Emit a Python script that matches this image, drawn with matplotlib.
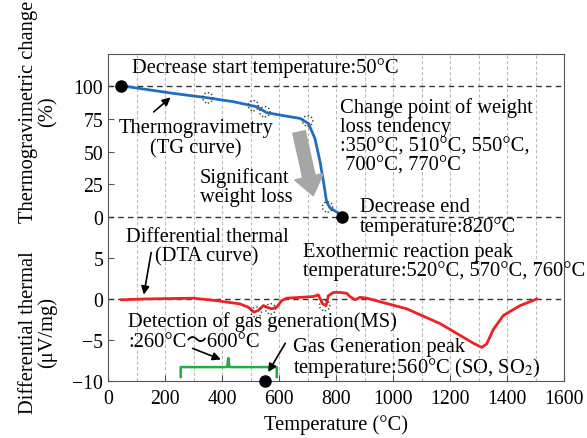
import matplotlib
matplotlib.use("Agg")
from matplotlib import pyplot as plt

plt.rcParams["font.family"] = ["Liberation Serif", "Noto Sans CJK JP"]
plt.rcParams["mathtext.fontset"] = "stix"
plt.rcParams["font.size"] = 14.8
plt.rcParams["xtick.labelsize"] = 14.2
plt.rcParams["ytick.labelsize"] = 14.2

# TG curve (%)
tg_temp = [45, 60, 229, 346, 440, 521, 557, 603, 674, 703, 726, 744, 758, 767, 779, 826]
tg_value = [100, 100, 94.6, 91.3, 88.2, 84.4, 79.8, 78, 75.4, 71.5, 60, 42, 24, 11.3, 6.7, 0.5]
tg_change_temp = [350, 510, 550, 700, 770]
tg_change_value = [91.2, 85.2, 80.5, 73.5, 7.5]
tg_start = (45, 100)
tg_end = (820, 0)

# DTA curve (uV/mg)
dta_temp = [48, 124, 300, 381, 463, 492, 512, 527, 545, 557, 574, 592, 609, 627, 720, 738,
            753, 765, 773, 791, 814, 837, 849, 867, 884, 908, 1048, 1165, 1282, 1311, 1328,
            1352, 1387, 1446, 1504]
dta_value = [-0.1, 0, 0.1, -0.2, -0.6, -1.0, -1.6, -1.4, -0.8, -1.0, -1.2, -1.0, -0.2, 0.1, 0.3, 0.5,
             -0.6, -0.8, 0.4, 0.8, 0.8, 0.7, 0.3, -0.1, 0.2, 0.1, -1.2, -3.0, -5.4, -5.9, -5.5,
             -3.7, -2.0, -0.8, 0]
dta_peak_temp = [520, 570, 760]
dta_peak_value = [-1.6, -1.2, -0.8]

# gas generation (MS)
ms_start, ms_end, ms_mid = 255, 592, 422
ms_peak = (550, -10)

fig = plt.figure(figsize=(5.87, 4.39), dpi=100)
ax1 = fig.add_axes([0.184, 0.4601, 0.777, 0.4146])
ax2 = fig.add_axes([0.184, 0.1298, 0.777, 0.3303], sharex=ax1)

frame = "#555555"
for ax in (ax1, ax2):
  for s in ax.spines.values():
    s.set_color(frame)
  ax.tick_params(direction="in", color=frame, length=4)
  for x in range(100, 1600, 100):
    ax.axvline(x, color="#bbbbbb", ls=(0, (3, 2)), lw=0.8, zorder=0)
ax1.spines["bottom"].set_visible(False)
ax2.spines["top"].set_visible(False)
ax1.tick_params(axis="x", bottom=False, labelbottom=False)
ax2.tick_params(axis="x", pad=6)

ax1.set_xlim(0, 1600)
ax1.set_ylim(-14.8, 124.8)
ax2.set_ylim(-10, 7.68)
ax1.set_yticks([0, 25, 50, 75, 100])
ax2.set_yticks([-10, -5, 0, 5])
ax2.set_xticks(range(0, 1601, 200))

for y in (0, 100):
  ax1.axhline(y, color="#333333", ls=(0, (4, 3)), lw=1)
ax2.axhline(0, color="#333333", ls=(0, (4, 3)), lw=1)

ax1.plot(tg_temp, tg_value, color="#1f6fc0", lw=2)
ax1.scatter(tg_change_temp, tg_change_value, s=55, facecolors="none", edgecolors="#333333",
            linestyle=":", lw=1, zorder=4)
ax1.plot(*tg_start, "o", color="black", ms=8, clip_on=False, zorder=5)
ax1.plot(*tg_end, "o", color="black", ms=8, clip_on=False, zorder=5)

ax2.plot(dta_temp, dta_value, color="#ee2222", lw=2)
ax2.scatter(dta_peak_temp, dta_peak_value, s=55, facecolors="none", edgecolors="#333333",
            linestyle=":", lw=1, zorder=4)
ax2.plot([ms_start, ms_start, ms_mid - 4, ms_mid, ms_mid + 4, ms_end, ms_end],
         [-9.5, -8.3, -8.3, -7.2, -8.3, -8.3, -9.5], color="#22aa44", lw=1.8)
ax2.plot(*ms_peak, "o", color="black", ms=8, clip_on=False, zorder=5)

arrow = dict(arrowstyle="-|>", color="black", lw=1.2, mutation_scale=12)

ax1.text(84, 114.8, "Decrease start temperature:50°C", va="center")
ax1.annotate("", xy=(227, 92.9), xytext=(153, 79), arrowprops=arrow)
ax1.text(309, 60.5, "Thermogravimetry\n(TG curve)", ha="center", va="center",
         multialignment="center", linespacing=1.05)
ax1.text(323, 23.5, "Significant\nweight loss", va="center", linespacing=1.0)
ax1.annotate("", xy=(722, 14), xytext=(668, 67),
             arrowprops=dict(arrowstyle="simple,head_length=1.0,head_width=1.5,tail_width=0.65",
                             color="#a6a6a6", mutation_scale=14))
ax1.text(814, 61.9, "Change point of weight\nloss tendency\n:350°C, 510°C, 550°C,\n 700°C, 770°C",
         va="center", linespacing=1.0)
ax1.text(884, 0.0, "Decrease end\ntemperature:820°C", va="center", linespacing=1.0)

ax2.text(684, 4.63, "Exothermic reaction peak\ntemperature:520°C, 570°C, 760°C", va="center",
         linespacing=1.0)
ax2.text(347, 6.4, "Differential thermal\n(DTA curve)", ha="center", va="center",
         multialignment="center", linespacing=1.0)
ax2.annotate("", xy=(124, 0.2), xytext=(153, 6.0), arrowprops=arrow)
ax2.text(70, -2.65, "Detection of gas generation(MS)", va="center")
ax2.text(70, -5.2, ":260°C～600°C", va="center")
ax2.annotate("", xy=(405, -7.5), xytext=(288, -5.9), arrowprops=arrow)
ax2.text(649, -7.2, "Gas Generation peak\ntemperature:560°C (SO, SO$_2$)", va="center",
         linespacing=0.95)
ax2.annotate("", xy=(557, -9.2), xytext=(627, -5.1), arrowprops=arrow)

ax2.set_xlabel("Temperature (°C)", labelpad=4)
fig.text(38 / 587, 1 - 112 / 439, "Thermogravimetric change\n(%)", rotation=90, ha="center",
         va="center", multialignment="center", linespacing=1.0)
fig.text(38 / 587, 1 - 333 / 439, "Differential thermal\n(μV/mg)", rotation=90, ha="center",
         va="center", multialignment="center", linespacing=1.0)

fig.savefig("out.png", dpi=100)
